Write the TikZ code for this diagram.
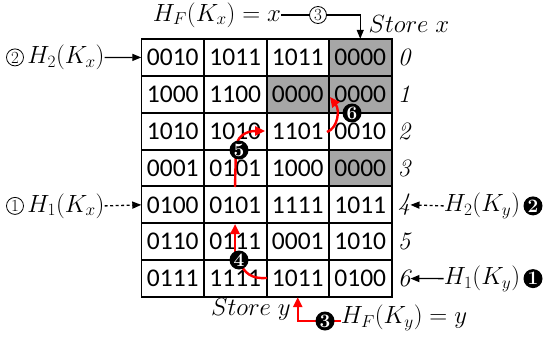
\documentclass[tikz,border=0pt]{standalone}
\usepackage{fontspec}
\newfontfamily\cellfont{Carlito}
\usetikzlibrary{arrows.meta}
\definecolor{grayfill}{HTML}{A6A6A6}
\begin{document}
\begin{tikzpicture}[x=1pt,y=-1pt,
 cell/.style={minimum width=62.5pt, minimum height=36.86pt, inner sep=0pt, font=\cellfont\fontsize{25.5}{25.5}\selectfont},
 gridline/.style={draw=black, line width=1.6pt},
 rowlab/.style={font=\fontsize{25}{25}\selectfont\itshape, inner sep=0pt},
 lab/.style={font=\fontsize{23}{23}\selectfont, inner sep=0pt},
 wcirc/.style={circle, draw, line width=0.8pt, inner sep=0pt, minimum size=17pt, font=\fontsize{17}{17}\selectfont},
 bcirc/.style={circle, fill=black, inner sep=0pt, minimum size=19pt, text=white, font=\bfseries\fontsize{19}{19}\selectfont},
 blk/.style={line width=1.3pt, -{Triangle[length=9pt,width=7pt]}},
 dsh/.style={dash pattern=on 3pt off 2.5pt},
 redarr/.style={red, line width=2.4pt, -{Triangle[length=10pt,width=9pt]}},
 redline/.style={red, line width=2.4pt},
]
\useasboundingbox (0,0) rectangle (545,337);
% cells
\foreach \r/\a/\b/\c/\d/\ga/\gb/\gc/\gd in {
 0/0010/1011/1011/0000/white/white/white/grayfill,
 1/1000/1100/0000/0000/white/white/grayfill/grayfill,
 2/1010/1010/1101/0010/white/white/white/white,
 3/0001/0101/1000/0000/white/white/white/grayfill,
 4/0100/0101/1111/1011/white/white/white/white,
 5/0110/0111/0001/1010/white/white/white/white,
 6/0111/1111/1011/0100/white/white/white/white}{
  \node[cell, fill=\ga] (c\r0) at (172.75, 39+36.857*\r+18.43) {\a};
  \node[cell, fill=\gb] (c\r1) at (235.25, 39+36.857*\r+18.43) {\b};
  \node[cell, fill=\gc] (c\r2) at (297.75, 39+36.857*\r+18.43) {\c};
  \node[cell, fill=\gd] (c\r3) at (360.25, 39+36.857*\r+18.43) {\d};
  \node[rowlab] (rl\r) at (404, 39+36.857*\r+18.43) {\r};
}
\foreach \r in {0,...,6}{
  \foreach \c in {0,...,3}{
    \draw[gridline] (c\r\c.north west) rectangle (c\r\c.south east);
  }
}
% top
\node[lab] (hfx) at (217,15) {$H_F(K_x) = x$};
\node[wcirc] (o3) at (318,15) {3};
\node[lab] (stx) at (409,24) {$Store\ x$};
\draw[line width=1.3pt] (hfx.east) -- (o3.west);
\draw[blk] (o3.east) -| (c03.north);
% left
\node[wcirc] (lc2) at (15,57.4) {2};
\node[lab] (h2x) at (66,57.4) {$H_2(K_x)$};
\draw[blk] (h2x.east) -- (c00.west);
\node[wcirc] (lc1) at (15,205.9) {1};
\node[lab] (h1x) at (66,205.9) {$H_1(K_x)$};
\draw[blk, dsh] (h1x.east) -- (c40.west);
% right
\node[lab] (h2y) at (482,205.9) {$H_2(K_y)$};
\node[bcirc] (bc2) at (533,205.9) {2};
\draw[blk, dsh] (h2y.west) -- (rl4.east);
\node[lab] (h1y) at (482,278.6) {$H_1(K_y)$};
\node[bcirc] (bc1) at (533,278.6) {1};
\draw[blk] (h1y.west) -- (rl6.east);
% bottom
\node[lab] (sty) at (251,309) {$Store\ y$};
\node[lab] (hfy) at (404,318) {$H_F(K_y) = y$};
\coordinate (b3c) at (325,321);
\draw[redline] (b3c) -- (hfy.west |- b3c);
\draw[redarr] (b3c) -| (c62.south);
\node[bcirc] (b3) at (b3c) {3};
% red path
\coordinate (p4s) at (267,278);
\coordinate (n4c) at (239,260);
\draw[redline] (p4s) .. controls (252,279) and (244,274) .. (n4c);
\draw[redarr] (235,258) -- (235,224);
\node[bcirc] (n4) at (n4c) {4};
\draw[redarr] (235,187) -- (236,146) .. controls (238,136) and (246,131) .. (265,131);
\node[bcirc] (n5) at (239,150) {5};
\draw[redarr] (327,132) .. controls (338,128) and (340,110) .. (330,97);
\node[bcirc] (n6) at (352,113) {6};
\end{tikzpicture}
\end{document}
